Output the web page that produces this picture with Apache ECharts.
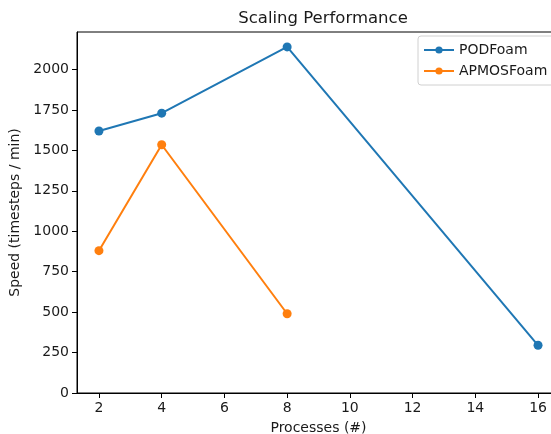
<!DOCTYPE html>
<html>
<head>
<meta charset="utf-8">
<script src="https://cdn.jsdelivr.net/npm/echarts@6/dist/echarts.min.js"></script>
<style>html,body{margin:0;padding:0;background:#fff}#c{width:551px;height:434px}</style>
</head>
<body>
<div id="c"></div>
<script>
var processes = [2, 4, 8, 16];
var podFoam = [1620, 1730, 2140, 295];
var apmosProcesses = [2, 4, 8];
var apmosFoam = [880, 1535, 490];
var xTicks = [2, 4, 6, 8, 10, 12, 14, 16];
var yTicks = [0, 250, 500, 750, 1000, 1250, 1500, 1750, 2000];

var font = 'DejaVu Sans';
var txt = '#1a1a1a';
var chart = echarts.init(document.getElementById('c'));
chart.setOption({
  animation: false,
  backgroundColor: '#fff',
  title: {
    text: 'Scaling Performance',
    left: 318, textAlign: 'center', top: 5,
    textStyle: {fontFamily: font, fontSize: 16.5, fontWeight: 'normal', color: txt}
  },
  legend: {
    left: 418, top: 36, orient: 'vertical',
    itemWidth: 30, itemHeight: 9, itemGap: 7,
    padding: [7, 40, 7, 5],
    borderColor: '#d0d0d0', borderWidth: 1, borderRadius: 3,
    backgroundColor: 'rgba(255,255,255,0.8)',
    textStyle: {fontFamily: font, fontSize: 14, color: txt},
    data: ['PODFoam', 'APMOSFoam']
  },
  grid: {left: 77, top: 32, width: 483, height: 361, containLabel: false, outerBoundsMode: 'none',
    show: true, borderColor: '#000', borderWidth: 1},
  xAxis: {
    type: 'value', min: 1.3, max: 16.7,
    name: 'Processes (#)', nameLocation: 'middle', nameGap: 28,
    nameTextStyle: {fontFamily: font, fontSize: 14, color: txt},
    axisLine: {show: true, lineStyle: {color: '#000'}},
    axisTick: {show: true, length: 5, lineStyle: {color: '#000'}, customValues: xTicks},
    axisLabel: {fontFamily: font, fontSize: 14, color: txt, margin: 8, customValues: xTicks,
      formatter: function (v) { return String(v); }},
    splitLine: {show: false}
  },
  yAxis: {
    type: 'value', min: 0, max: 2232,
    name: 'Speed (timesteps / min)', nameLocation: 'middle', nameGap: 48,
    nameTextStyle: {fontFamily: font, fontSize: 14, color: txt},
    axisLine: {show: true, lineStyle: {color: '#000'}},
    axisTick: {show: true, length: 5, lineStyle: {color: '#000'}, customValues: yTicks},
    axisLabel: {fontFamily: font, fontSize: 14, color: txt, margin: 8, customValues: yTicks,
      formatter: function (v) { return String(v); }},
    splitLine: {show: false}
  },
  series: [
    {
      name: 'PODFoam', type: 'line',
      data: processes.map(function (p, i) { return [p, podFoam[i]]; }),
      symbol: 'circle', symbolSize: 9,
      lineStyle: {width: 2, color: '#1f77b4'},
      itemStyle: {color: '#1f77b4'}
    },
    {
      name: 'APMOSFoam', type: 'line',
      data: apmosProcesses.map(function (p, i) { return [p, apmosFoam[i]]; }),
      symbol: 'circle', symbolSize: 9,
      lineStyle: {width: 2, color: '#ff7f0e'},
      itemStyle: {color: '#ff7f0e'}
    }
  ]
});
</script>
</body>
</html>
